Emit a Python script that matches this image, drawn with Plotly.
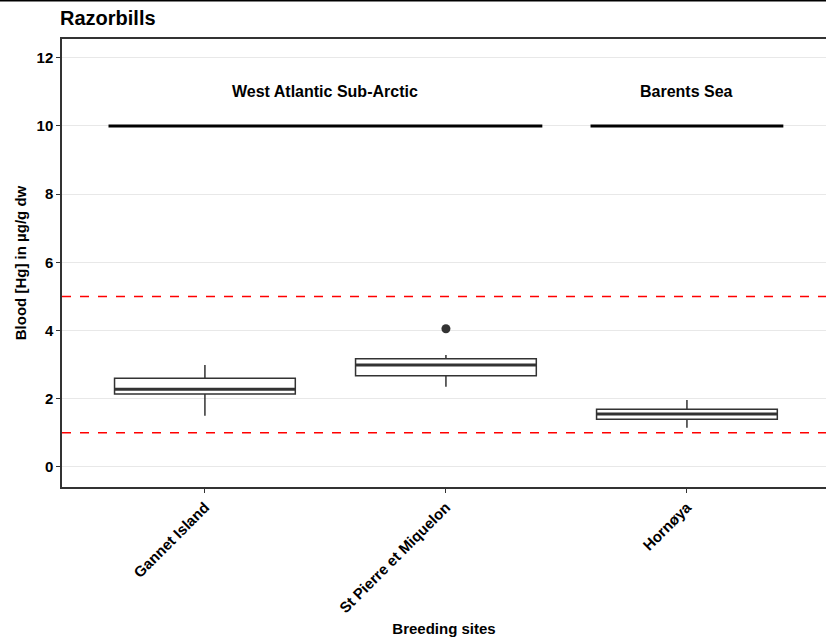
import plotly.graph_objects as go

sites = ["Gannet Island", "St Pierre et Miquelon", "Hornøya"]
site_pos = [1, 2, 3]
q1 = [2.14, 2.67, 1.40]
median = [2.28, 2.99, 1.55]
q3 = [2.60, 3.17, 1.69]
lower = [1.50, 2.35, 1.15]
upper = [2.99, 3.28, 1.96]

outlier_site = [2]
outlier_val = [4.05]

regions = ["West Atlantic Sub-Arctic", "Barents Sea"]
region_start = [0.6, 2.6]
region_end = [2.4, 3.4]
region_label_x = [1.5, 3.0]
region_y = 10
region_label_y = 11

thresholds = [5, 1]

box_w = 0.75
font = "Liberation Sans, Arial, sans-serif"

fig = go.Figure()

for i, name in enumerate(sites):
    fig.add_trace(go.Box(
        x=[site_pos[i]], q1=[q1[i]], median=[median[i]], q3=[q3[i]],
        lowerfence=[lower[i]], upperfence=[upper[i]],
        width=box_w, whiskerwidth=0,
        fillcolor="white", line=dict(color="#333333", width=1.5),
        boxpoints=False, showlegend=False, hoverinfo="skip",
    ))
    # thicker median bar like ggplot
    fig.add_trace(go.Scatter(
        x=[site_pos[i] - box_w / 2, site_pos[i] + box_w / 2],
        y=[median[i], median[i]], mode="lines",
        line=dict(color="#333333", width=3), showlegend=False, hoverinfo="skip",
    ))

fig.add_trace(go.Scatter(
    x=outlier_site, y=outlier_val, mode="markers",
    marker=dict(color="#333333", size=9), showlegend=False,
))

for s, e in zip(region_start, region_end):
    fig.add_trace(go.Scatter(
        x=[s, e], y=[region_y, region_y], mode="lines",
        line=dict(color="black", width=3), showlegend=False, hoverinfo="skip",
    ))

for name, lx in zip(regions, region_label_x):
    fig.add_annotation(x=lx, y=region_label_y, text=name, showarrow=False,
                       font=dict(family=font, size=16, color="black", weight="bold"))

for t in thresholds:
    fig.add_shape(type="line", xref="paper", x0=0, x1=1, y0=t, y1=t,
                  line=dict(color="red", width=1.5, dash="dash"))

# thin frame line along the very top of the image
fig.add_shape(type="line", xref="paper", yref="paper", x0=-0.1, x1=1, y0=1.086, y1=1.086,
              line=dict(color="black", width=2))

fig.update_layout(
    width=826, height=640,
    margin=dict(l=62, r=0, t=39, b=153),
    paper_bgcolor="white", plot_bgcolor="white",
    font=dict(family=font, size=14, color="black"),
    title=dict(text="<b>Razorbills</b>", x=60 / 826, xref="container", xanchor="left",
               y=1 - 18 / 640, yref="container", yanchor="middle",
               font=dict(family=font, size=20, color="black")),
    showlegend=False,
)

fig.update_xaxes(
    range=[0.407, 3.577], tickvals=site_pos, ticktext=sites, tickangle=-45,
    showgrid=False, zeroline=False, showline=True, linecolor="#333333", linewidth=1.5,
    mirror=True, ticks="outside", ticklen=4, tickcolor="#333333", automargin=False,
    tickfont=dict(family=font, size=15, color="black", weight="bold"),
    title=dict(text="Breeding sites", font=dict(family=font, size=15, weight="bold"), standoff=8),
)
fig.update_yaxes(
    range=[-0.59, 12.55], tickvals=[0, 2, 4, 6, 8, 10, 12],
    showgrid=True, gridcolor="#e8e8e8", gridwidth=1, zeroline=False,
    showline=True, linecolor="#333333", linewidth=1.5, automargin=False,
    ticks="outside", ticklen=4, tickcolor="#333333",
    tickfont=dict(family=font, size=15, color="black", weight="bold"),
    title=dict(text="Blood [Hg] in µg/g dw", font=dict(family=font, size=15, weight="bold"), standoff=6),
)

# drop the default page margin so the figure sits at the window origin
fig.write_html("out.html", config={"displayModeBar": False},
               post_script="document.body.style.margin='0';")
